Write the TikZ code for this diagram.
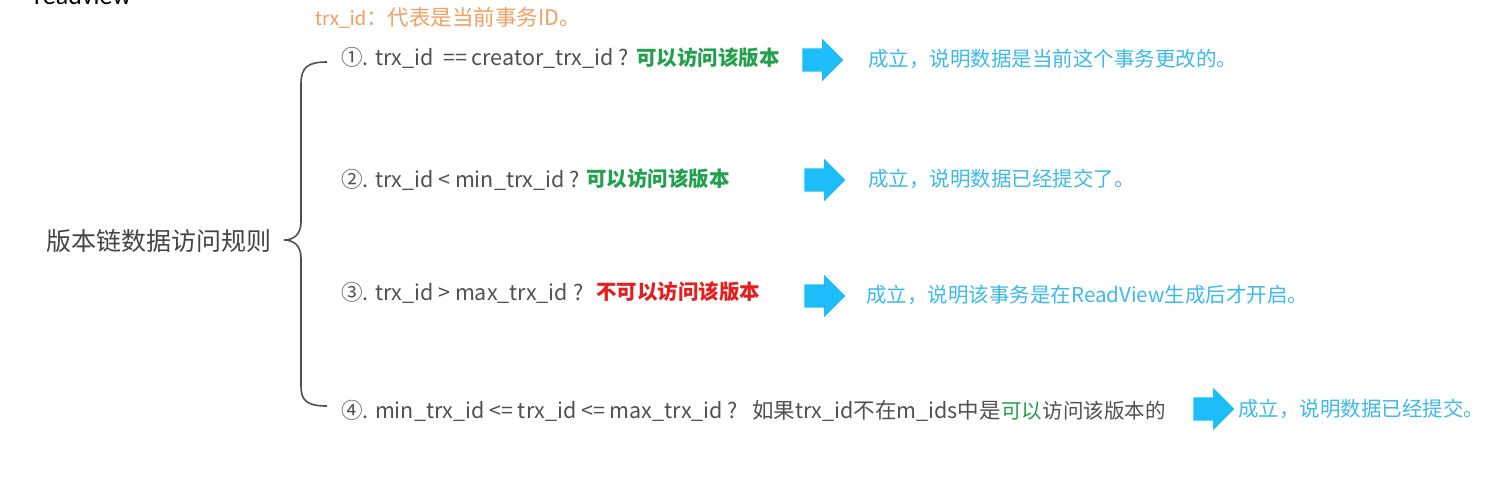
\documentclass[tikz,border=0pt]{standalone}
\usepackage{fontspec}
\setmainfont{Carlito}
\newfontfamily\cjk{Noto Sans CJK SC}
\usetikzlibrary{shapes.arrows}
\definecolor{txtgray}{HTML}{505050}
\definecolor{lblgray}{HTML}{444444}
\definecolor{okgreen}{HTML}{22A04E}
\definecolor{nored}{HTML}{E51F1F}
\definecolor{infoblue}{HTML}{3DB9EA}
\definecolor{arrowblue}{HTML}{1CBDF8}
\definecolor{noteorange}{HTML}{F0A062}
\begin{document}
\begin{tikzpicture}[x=1pt,y=-1pt,
  base/.style={inner sep=0pt, anchor=west},
  gr/.style={base, text=txtgray, font=\fontsize{21.5}{26}\selectfont},
  ok/.style={base, text=okgreen, font=\cjk\bfseries\fontsize{20.5}{26}\selectfont},
  no/.style={base, text=nored, font=\cjk\bfseries\fontsize{20.5}{26}\selectfont},
  info/.style={base, text=infoblue, font=\cjk\fontsize{20.5}{26}\selectfont},
  bigarrow/.style={single arrow, fill=arrowblue, draw=none, inner sep=0pt,
    minimum height=41pt, minimum width=42pt, single arrow head extend=9.5pt,
    text width=0pt, text height=11.5pt, text depth=11.5pt},
  bracestyle/.style={draw=txtgray, line width=1.6pt}]
\useasboundingbox (0,0) rectangle (1498,490);
\clip (0,0) rectangle (1498,490);

% clipped heading at the top
\node[base, anchor=base west, text=black, font=\fontsize{26}{30}\selectfont] (hd) at (34,4) {readview};
\node[base, text=noteorange, font=\fontsize{21.5}{26}\selectfont] (note) at (315,18) {trx\_id\cjk{：代表是当前事务}ID\cjk{。}};

% left label
\node[base, text=lblgray, font=\cjk\fontsize{25}{30}\selectfont] (lbl) at (46,241) {版本链数据访问规则};

% brace
\coordinate (btop) at (327,62);
\coordinate (bbot) at (327,406);
\coordinate (bmid) at (284,240);
\draw[bracestyle] (btop) .. controls (308,62) and (301,67) .. (301,84) -- (301,222)
  .. controls (301,234) and (294,240) .. (bmid)
  .. controls (294,240) and (301,246) .. (301,258) -- (301,386)
  .. controls (301,400) and (306,406) .. (bbot);

% row 1
\node[gr] (r1a) at (341,58) {\cjk{①}. trx\_id \ == creator\_trx\_id ?};
\node[ok] (r1b) at (636,58) {可以访问该版本};
\node[bigarrow] (a1) at (817,60) {};
\node[info] (r1c) at (868,59) {成立，说明数据是当前这个事务更改的。};

% row 2
\node[gr] (r2a) at (341,180) {\cjk{②}. trx\_id < min\_trx\_id ?};
\node[ok] (r2b) at (586,179) {可以访问该版本};
\node[bigarrow] (a2) at (819,180) {};
\node[info] (r2c) at (868,179) {成立，说明数据已经提交了。};

% row 3
\node[gr] (r3a) at (341,293) {\cjk{③}. trx\_id > max\_trx\_id ?};
\node[no] (r3b) at (596,292) {不可以访问该版本};
\node[bigarrow] (a3) at (819,296) {};
\node[info] (r3c) at (866,295) {成立，说明该事务是在ReadView生成后才开启。};

% row 4
\node[gr] (r4a) at (341,411) {\cjk{④}. min\_trx\_id <= trx\_id <= max\_trx\_id ?};
\node[gr] (r4b) at (752,411) {\cjk{如果}trx\_id\cjk{不在}m\_ids\cjk{中是}};
\node[base, text=okgreen, font=\cjk\fontsize{20.5}{26}\selectfont] (r4c) at (r4b.east) {可以};
\node[base, text=txtgray, font=\cjk\fontsize{20.5}{26}\selectfont] (r4d) at (r4c.east) {访问该版本的};
\node[bigarrow] (a4) at (1208,409) {};
\node[info] (r4e) at (1238,409) {成立，说明数据已经提交。};
\end{tikzpicture}
\end{document}
